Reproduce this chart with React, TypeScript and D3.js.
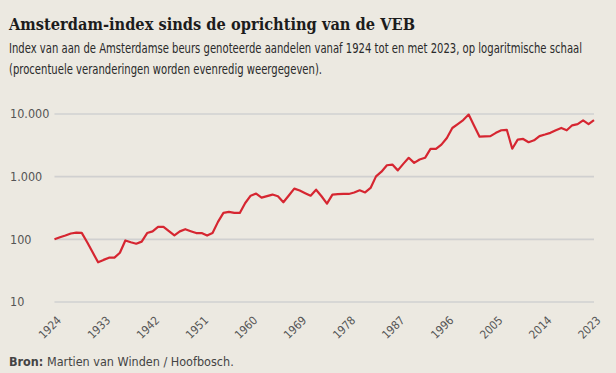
import React from 'react';
import { scaleLinear, scaleLog, line } from 'd3';

const years = Array.from({ length: 100 }, (_, i) => 1924 + i);
const indexValues = [
  100, 108, 115, 124, 128, 127, 90, 62, 43, 47,
  51, 51, 61, 96, 90, 85, 92, 126, 134, 158,
  158, 135, 116, 134, 145, 135, 126, 126, 115, 126,
  190, 264, 274, 264, 264, 380, 497, 536, 463, 490,
  518, 487, 390, 500, 645, 600, 545, 497, 620, 487,
  372, 518, 525, 530, 530, 560, 605, 560, 660, 1010,
  1200, 1520, 1560, 1260, 1600, 2000, 1660, 1880, 2000, 2770,
  2770, 3240, 4150, 5980, 6900, 8000, 9800, 6500, 4340, 4400,
  4440, 5000, 5500, 5600, 2790, 3900, 4000, 3540, 3800, 4440,
  4700, 5000, 5500, 6000, 5500, 6600, 6900, 7900, 6900, 8000,
];
const xTickYears = [1924, 1933, 1942, 1951, 1960, 1969, 1978, 1987, 1996, 2005, 2014, 2023];
const yTickValues = [10, 100, 1000, 10000];
const yTickLabels = ['10', '100', '1.000', '10.000'];

const W = 616;
const H = 373;
const narrow = "'Liberation Sans Narrow', 'DejaVu Sans Condensed', 'Roboto', sans-serif";

const App = () => {
  const x = scaleLinear().domain([1924, 2023]).range([54.5, 594]);
  const y = scaleLog().domain([10, 10000]).range([302, 114]);

  const path = line<number>()
    .x((_, i) => x(years[i]))
    .y((d) => y(d))(indexValues);

  return (
    <svg
      width={W}
      height={H}
      style={{ position: 'absolute', left: 0, top: 0 }}
      fontFamily={narrow}
    >
      <rect width={W} height={H} fill="#ece9e1" />

      <text x={9} y={30} fontFamily="'DejaVu Serif', serif" fontWeight="bold" fontSize={16}
        fill="#1c1c1c" textLength={406} lengthAdjust="spacingAndGlyphs">
        Amsterdam-index sinds de oprichting van de VEB
      </text>
      <text x={9} y={52.5} fontSize={13.5} fill="#2a2a2a" textLength={573} lengthAdjust="spacingAndGlyphs">
        Index van aan de Amsterdamse beurs genoteerde aandelen vanaf 1924 tot en met 2023, op logaritmische schaal
      </text>
      <text x={9} y={73.5} fontSize={13.5} fill="#2a2a2a" textLength={313} lengthAdjust="spacingAndGlyphs">
        (procentuele veranderingen worden evenredig weergegeven).
      </text>

      {yTickValues.map((v, i) => (
        <g key={v}>
          <line x1={54.5} x2={594} y1={y(v)} y2={y(v)} stroke="#d0d0d0" strokeWidth={1.6} />
          <text x={10} y={y(v)} dy="0.35em" fontSize={12.5} fill="#555">
            {yTickLabels[i]}
          </text>
        </g>
      ))}

      {xTickYears.map((yr) => (
        <text
          key={yr}
          transform={`translate(${x(yr) + 7.5},${321}) rotate(-45)`}
          textAnchor="end"
          fontSize={11.5}
          fill="#555"
        >
          {yr}
        </text>
      ))}

      <path d={path ?? ''} fill="none" stroke="#d62631" strokeWidth={2.2} strokeLinejoin="round" />

      <text x={9} y={366} fontSize={12.5} fill="#444">
        <tspan fontWeight="bold">Bron:</tspan> Martien van Winden / Hoofbosch.
      </text>
    </svg>
  );
};

export default App;
